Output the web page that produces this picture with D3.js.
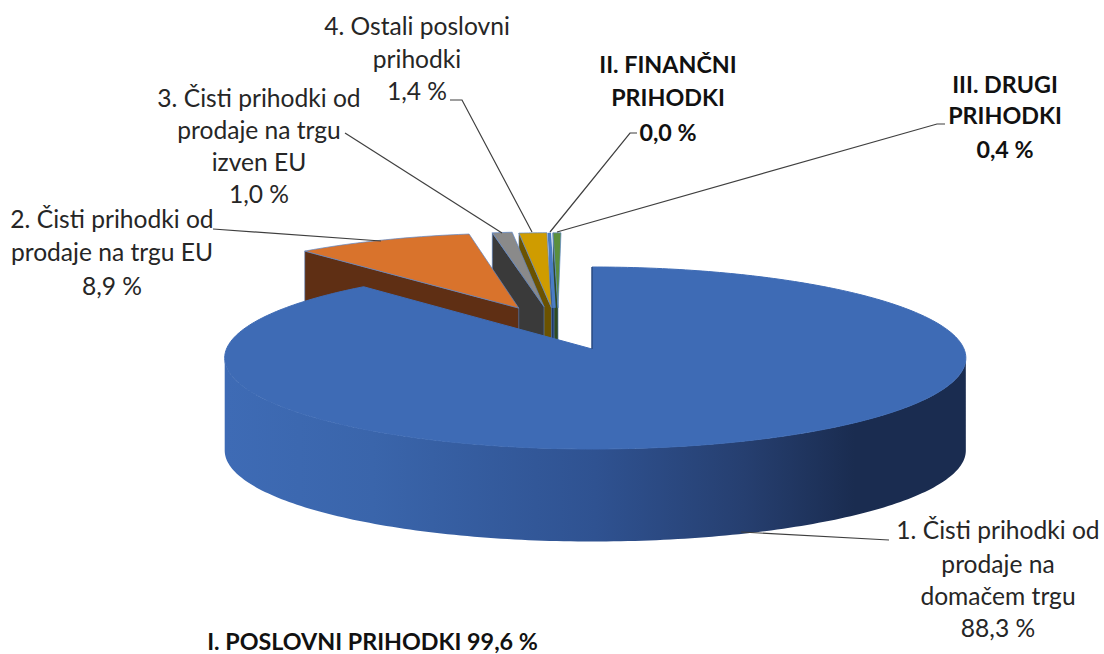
<!DOCTYPE html>
<html><head><meta charset="utf-8">
<style>html,body{margin:0;padding:0;background:#fff}svg{display:block}</style>
<script src="https://cdn.jsdelivr.net/npm/d3@7"></script></head>
<body><svg id="c" width="1104" height="654"></svg>
<script>
// ---- data ----
const categories = ["1. Čisti prihodki od prodaje na domačem trgu","2. Čisti prihodki od prodaje na trgu EU","3. Čisti prihodki od prodaje na trgu izven EU","4. Ostali poslovni prihodki","II. FINANČNI PRIHODKI","III. DRUGI PRIHODKI"];
const values = [88.3, 8.9, 1.0, 1.4, 0.0, 0.4];
const valueLabels = ["88,3 %","8,9 %","1,0 %","1,4 %","0,0 %","0,4 %"];
const groupTitle = "I. POSLOVNI PRIHODKI 99,6 %";

// ---- style & layout ----
const topColors  = ["#3e6bb5","#d9732c","#8a8a8a","#cf9c00","#4a7cc4","#5b8f3c"];
const wallColors = [null,"#5f2f14","#3a3a3a","#6b5200","#1f3a68","#2f4a20"];
const explodeDist    = [0, .52, .512, .494, .491, .488];
const explodeBearing = [0, 336.2, 344.4, 346.4, 347.2, 348.5];
const labelLayout = [
 {cx:998, ys:[539,573,605,637], lines:["1. Čisti prihodki od","prodaje na","domačem trgu"], bold:false, leader:[[889,540],[741,532]]},
 {cx:112, ys:[228,261,295],     lines:["2. Čisti prihodki od","prodaje na trgu EU"], bold:false, leader:[[213,229],[381,241]]},
 {cx:259, ys:[107,139,171,203], lines:["3. Čisti prihodki od","prodaje na trgu","izven EU"], bold:false, leader:[[345,133],[502,233]]},
 {cx:417, ys:[35,68,100],       lines:["4. Ostali poslovni","prihodki"], bold:false, leader:[[450,100],[462,100],[532,232]]},
 {cx:668, ys:[73,106,141],      lines:["II. FINANČNI","PRIHODKI"], bold:true, leader:[[637,133],[630,133],[550,232]]},
 {cx:1005,ys:[93,124,158],      lines:["III. DRUGI","PRIHODKI"], bold:true, leader:[[945,124],[937,124],[557,232]]}
];
const font = "Lato, 'Noto Sans', sans-serif", fsRegular = 24.6, fsBold = 23.3;

// projection: disc coordinates (u right, v back) -> screen, with slight perspective
const apex = [592,349], Rl = 365.5, Rr = 372, H = 90.1, k = .0989, depth = 92.5;
const project = (u,v) => { const s = 1/(1+k*v); return [apex[0] + (u<0?Rl:Rr)*u*s, apex[1] - H*v*s]; };
const rad = d => d*Math.PI/180;

const svg = d3.select("#c");
const pie = d3.pie().sort(null).startAngle(0).endAngle(2*Math.PI)(values);
const line = d3.line();

// blue wall gradient
const grad = svg.append("defs").append("linearGradient").attr("id","wall")
  .attr("gradientUnits","userSpaceOnUse").attr("x1",225).attr("x2",966).attr("y1",0).attr("y2",0);
[[0,"#3e6bb5"],[.2,"#3a65ab"],[.5,"#2f5291"],[.7,"#263f70"],[.85,"#1a2c50"],[1,"#1a2c50"]]
  .forEach(([o,c])=>grad.append("stop").attr("offset",o).attr("stop-color",c));

function slicePts(p,du,dv){
  const n = Math.max(2,Math.ceil((p.endAngle-p.startAngle)/rad(1)));
  const arc = d3.range(n+1).map(i=>{const a=p.startAngle+(p.endAngle-p.startAngle)*i/n;
    return project(du+Math.sin(a),dv+Math.cos(a));});
  return {apexPt:project(du,dv),arc};
}
// exploded slices, painted right to left
for(let i=values.length-1;i>=1;i--){
  const b=rad(explodeBearing[i]), du=explodeDist[i]*Math.sin(b), dv=explodeDist[i]*Math.cos(b);
  const {apexPt,arc}=slicePts(pie[i],du,dv);
  const first=arc[0];
  svg.append("path").attr("d",line([first,apexPt,[apexPt[0],apexPt[1]+depth],[first[0],first[1]+depth]])+"Z")
    .attr("fill",wallColors[i]).attr("stroke","#5b85c6").attr("stroke-width",.6);
  const zero = values[i]===0;
  svg.append("path").attr("d",line([apexPt,...arc])+"Z").attr("fill",topColors[i])
    .attr("stroke",zero?topColors[i]:"#5b85c6").attr("stroke-width",zero?3.5:.7);
}
// main slice wall (front rim only, between the silhouette points)
const rim=d3.range(96,265,1).map(a=>project(Math.sin(rad(a)),Math.cos(rad(a))));
svg.append("path").attr("d",line([...rim,...rim.slice().reverse().map(p=>[p[0],p[1]+depth])])+"Z").attr("fill","url(#wall)");
// main slice top
const main=slicePts(pie[0],0,0);
svg.append("path").attr("d",line([main.apexPt,...main.arc])+"Z").attr("fill",topColors[0]).attr("stroke","#3e6bb5").attr("stroke-width",1);
svg.append("path").attr("d",line([project(0,1),main.apexPt])).attr("stroke","#1f3a68").attr("stroke-width",1).attr("fill","none");

// leaders and labels
labelLayout.forEach((l,i)=>{
  svg.append("path").attr("d",line(l.leader)).attr("fill","none").attr("stroke","#3f3f3f").attr("stroke-width",1.2);
  const rows=[...l.lines,valueLabels[i]];
  const t=svg.append("text").attr("text-anchor","middle").attr("font-family",font).attr("font-size",l.bold?fsBold:fsRegular)
    .attr("font-weight",l.bold?700:400).attr("fill",l.bold?"#111":"#262626");
  rows.forEach((r,j)=>t.append("tspan").attr("x",l.cx).attr("y",l.ys[j]).text(r));
});
svg.append("text").attr("x",372.5).attr("y",650).attr("text-anchor","middle").attr("font-family",font)
  .attr("font-size",fsBold).attr("font-weight",700).attr("fill","#111").text(groupTitle);
</script></body></html>
